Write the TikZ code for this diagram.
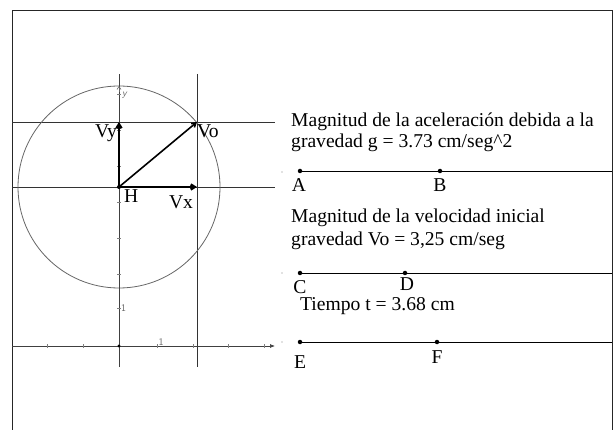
\documentclass[tikz,border=0pt]{standalone}
\usepackage{fontspec}
\setmainfont{Liberation Serif}
\usetikzlibrary{arrows.meta}
\tikzset{
  grid line/.style={draw=black!80, line width=0.7pt},
  axis line/.style={draw=black!75, line width=0.7pt},
  vec/.style={draw=black, line width=2.4pt},
  vecthin/.style={draw=black, line width=1.6pt},
  txt/.style={anchor=west, inner sep=0pt, font=\fontsize{19.6}{22}\selectfont},
  lbl/.style={inner sep=0pt, font=\fontsize{19.6}{22}\selectfont},
  small/.style={inner sep=0pt, font=\sffamily\fontsize{10}{11}\selectfont, text=black!60},
  pt/.style={circle, fill=black, inner sep=0pt, minimum size=4.5pt},
  tick/.style={draw=black!50, line width=0.6pt}
}
\begin{document}
\begin{tikzpicture}[x=1pt,y=-1pt]
\useasboundingbox (0,0) rectangle (613,430);
% frame
\draw[line width=0.8pt, black!85] (12,432) -- (12,10) -- (612,10) -- (612,432);
% construction lines
\draw[grid line] (12,122) -- (275,122);
\draw[grid line] (12,187) -- (275,187);
\draw[grid line] (197,74) -- (197,367);
% circle
\draw[black!60, line width=0.8pt] (119,187) circle[radius=101];
% axes
\draw[axis line, -{Latex[length=5pt,width=4pt]}] (12,346) -- (275,346);
\draw[axis line] (119,367) -- (119,74);
\draw[black!60, line width=0.6pt, -{Straight Barb[length=3pt,width=4pt]}] (119,92) -- (119,86);
% ticks on x axis
\foreach \xx in {47,83,157,193,228,264} \draw[tick] (\xx,344) -- (\xx,348);
% ticks on y axis
\foreach \yy in {308,274,238,202,166,130,94} \draw[tick] (117,\yy) -- (121,\yy);
\fill[black] (119,346) circle[radius=1.6];
\node[small, anchor=west] (one y) at (121,308) {1};
\node[small, anchor=south] (one x) at (161,346) {1};
\node[small, anchor=west] (ylab) at (122,95) {\itshape y};
% vectors
\coordinate (H) at (119,187);
\coordinate (Vo) at (197,122);
\coordinate (Vyend) at (119,122);
\coordinate (Vxend) at (197,187);
\draw[vec, -{Straight Barb[length=4pt,width=5pt]}] (H) -- (Vyend);
\draw[vec, -{Straight Barb[length=4pt,width=5pt]}] (H) -- (Vxend);
\draw[vecthin, -{Straight Barb[length=4pt,width=5pt]}] (H) -- (Vo);
\fill[black] (H) circle[radius=2];
\node[lbl, anchor=east] (vylab) at (117,133) {Vy};
\node[lbl, anchor=west] (volab) at (197,131) {Vo};
\node[lbl, anchor=west] (hlab) at (124,196) {H};
\node[lbl] (vxlab) at (181,202) {Vx};
% right text
\node[txt] (t1) at (291,122) {Magnitud de la aceleración debida a la};
\node[txt] (t2) at (291,143) {gravedad g = 3.73 cm/seg\^{}2};
\node[txt] (t3) at (291,218) {Magnitud de la velocidad inicial};
\node[txt] (t4) at (291,241) {gravedad Vo = 3,25 cm/seg};
\node[txt] (t5) at (300,306) {Tiempo t = 3.68 cm};
% segments
\node[pt] (A) at (300,171) {};
\node[pt] (B) at (440,171) {};
\coordinate (ABend) at (612,171);
\draw[line width=0.8pt] (A) -- (ABend);
\node[pt] (C) at (300,273) {};
\node[pt] (D) at (405,273) {};
\coordinate (CDend) at (612,273);
\draw[line width=0.8pt] (C) -- (CDend);
\node[pt] (E) at (300,342) {};
\node[pt] (F) at (437,342) {};
\coordinate (EFend) at (612,342);
\draw[line width=0.8pt] (E) -- (EFend);
\foreach \yy in {172,273,342} \fill[black!50] (282,\yy) circle[radius=0.6];
\node[lbl] (Alab) at (299,185) {A};
\node[lbl] (Blab) at (440,185) {B};
\node[lbl] (Clab) at (300,287) {C};
\node[lbl] (Dlab) at (407,284) {D};
\node[lbl] (Elab) at (300,362) {E};
\node[lbl] (Flab) at (437,357) {F};
\end{tikzpicture}
\end{document}
